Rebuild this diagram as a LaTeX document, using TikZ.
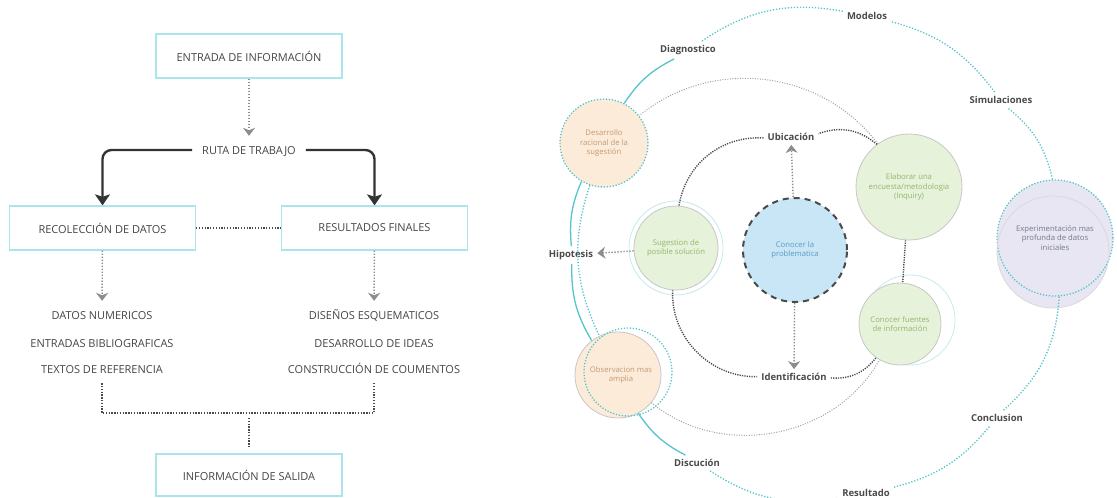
\documentclass[tikz,border=0pt]{standalone}
\usepackage{fontspec}
\setmainfont{Open Sans}
\usetikzlibrary{positioning,arrows.meta}

\definecolor{boxline}{HTML}{A9E5EB}
\definecolor{ringteal}{HTML}{55C4CB}
\definecolor{txtgray}{HTML}{454545}
\definecolor{dotgray}{HTML}{8C8C8C}
\definecolor{darkdot}{HTML}{4A4A4A}
\definecolor{heavy}{HTML}{333333}
\definecolor{midgray}{HTML}{A0A0A0}
\definecolor{peach}{HTML}{FDEBDA}
\definecolor{peachtxt}{HTML}{C29A70}
\definecolor{leaf}{HTML}{E6F2D9}
\definecolor{leaftxt}{HTML}{93B86E}
\definecolor{sky}{HTML}{C8E6F6}
\definecolor{skytxt}{HTML}{5C9BC5}
\definecolor{lilac}{HTML}{E8E6F2}
\definecolor{lilactxt}{HTML}{727A8C}

\begin{document}
\begin{tikzpicture}[x=1pt,y=1pt,
    every node/.style={font=\fontsize{11}{13}\selectfont,text=txtgray},
    box/.style={rectangle,draw=boxline,line width=1.3pt,minimum width=186pt,minimum height=44pt},
    listtext/.style={text height=8pt,text depth=0pt,inner xsep=10pt,inner ysep=10pt},
    softarrow/.style={draw=dotgray,dash pattern=on 1.3pt off 1.7pt,line width=1.4pt,-{Stealth[length=8pt,width=12pt,inset=2.5pt]}},
    heavyarrow/.style={draw=heavy,line width=2.4pt,rounded corners=9pt,-{Stealth[length=11pt,width=15pt,inset=2.5pt]}},
    tightdots/.style={draw=darkdot,dash pattern=on 1.3pt off 1.5pt,line width=1.3pt},
    ringtag/.style={font=\fontsize{9.5}{11}\selectfont\bfseries,text=darkdot,fill=white,inner sep=4pt},
    bubble/.style={circle,align=center,inner sep=0pt,font=\fontsize{7.7}{9.2}\selectfont},
    ringsolid/.style={draw=ringteal,line width=1.3pt},
    ringdots/.style={draw=ringteal,dash pattern=on 1.3pt off 1.7pt,line width=1.3pt},
    innerdots/.style={draw=darkdot,dash pattern=on 1.2pt off 1.2pt,line width=1.4pt},
    middots/.style={draw=midgray,dash pattern=on 1pt off 1.5pt,line width=1pt},
    faint/.style={draw=black!22,line width=0.8pt}
]
\useasboundingbox (0,0) rectangle (1117,-498);

% Flow on the left
\node[box] (entrada) at (249,-56) {ENTRADA DE INFORMACIÓN};
\node[listtext] (ruta) at (249,-150) {RUTA DE TRABAJO};
\node[box] (recoleccion) at (102.5,-228) {RECOLECCIÓN DE DATOS};
\node[box] (resultados) at (374.5,-228) {RESULTADOS FINALES};

\node[listtext] (numericos) at (102,-315) {DATOS NUMERICOS};
\node[listtext] (biblio) at (102,-343) {ENTRADAS BIBLIOGRAFICAS};
\node[listtext] (textos) at (102,-369) {TEXTOS DE REFERENCIA};
\node[listtext] (esquemas) at (374,-315) {DISEÑOS ESQUEMATICOS};
\node[listtext] (ideas) at (374,-343) {DESARROLLO DE IDEAS};
\node[listtext] (coumentos) at (374,-369) {CONSTRUCCIÓN DE COUMENTOS};

\node[box,minimum height=42pt] (salida) at (249,-475) {INFORMACIÓN DE SALIDA};

\coordinate (joinL) at (102,-413);
\coordinate (joinR) at (374,-413);
\coordinate (joinM) at (249,-418);

\draw[softarrow] (entrada) -- (ruta);
\draw[heavyarrow] (ruta.west) -| (recoleccion.north);
\draw[heavyarrow] (ruta.east) -| (resultados.north);
\draw[tightdots] (recoleccion) -- (resultados);
\draw[softarrow] (recoleccion) -- (numericos);
\draw[softarrow] (resultados) -- (esquemas);
\draw[tightdots] (textos) -- (joinL) -- (joinR) -- (coumentos);
\draw[tightdots,shorten >=6pt] (joinM) -- (salida);

% Circles on the right
\node[bubble,draw=ringteal,dash pattern=on 1.3pt off 1.7pt,line width=1.3pt,fill=peach,text=peachtxt,minimum size=88pt]
    (desarrollo) at (604,-143) {Desarrollo\\racional de la\\sugestión};
\node[bubble,faint,fill=peach,text=peachtxt,minimum size=86pt] (observ) at (618,-375) {\hspace*{6pt}Observacion mas\\\hspace*{6pt}amplia};
\draw[ringdots] (628,-372) circle (44);

\draw[draw=ringteal!35,line width=0.8pt] (676,-248) circle (47);
\node[bubble,faint,fill=leaf,text=leaftxt,minimum size=84pt] (sugest) at (676,-248) {Sugestion de\\posible solución};

\node[bubble,faint,fill=leaf,text=leaftxt,minimum size=106pt] (elaborar) at (909,-187) {Elaborar una\\encuesta/metodologia\\(Inquiry)};

\draw[draw=ringteal!35,line width=0.8pt] (910,-320) circle (45);
\node[bubble,faint,fill=leaf,text=leaftxt,minimum size=82pt] (fuentes) at (900,-324) {Conocer fuentes\\de información};

\node[bubble,draw=darkdot,line width=2pt,dash pattern=on 6pt off 5pt,fill=sky,text=skytxt,minimum size=104pt]
    (problema) at (795,-250) {Conocer la\\problematica};

\fill[lilac] (1053,-252) circle (56);
\node[bubble,draw=ringteal,dash pattern=on 1.3pt off 1.7pt,line width=1.3pt,fill=lilac,text=lilactxt,minimum size=116pt]
    (experim) at (1055,-238) {Experimentación mas\\profunda de datos\\iniciales};
\draw[faint,draw=black!15] (1053,-252) circle (56);

% Ring labels
\node[ringtag] (modelos) at (867,-16) {Modelos};
\node[ringtag] (simulaciones) at (1001,-100) {Simulaciones};
\node[ringtag] (conclusion) at (997,-418) {Conclusion};
\node[ringtag] (resultado) at (866,-493) {Resultado};
\node[ringtag] (discucion) at (697,-463) {Discución};
\node[ringtag] (hipotesis) at (571,-255) {Hipotesis};
\node[ringtag] (diagnostico) at (688,-50) {Diagnostico};
\node[ringtag] (ubic) at (791,-137) {Ubicación};
\node[ringtag] (ident) at (794,-377) {Identificación};

% Outer ring
\draw[ringdots] (resultado) to[bend right=18] (conclusion);
\draw[ringdots] (conclusion) to[bend right=22] (experim);
\draw[ringdots] (experim) to[bend right=19] (simulaciones);
\draw[ringdots] (simulaciones) to[bend right=19] (modelos);
\draw[ringdots] (modelos) to[bend right=22] (diagnostico);
\draw[ringsolid] (diagnostico) to[bend right=15] (desarrollo);
\draw[ringsolid] (desarrollo) to[bend right=14] (hipotesis);
\draw[ringsolid] (hipotesis) to[bend right=16] (observ);
\draw[ringsolid] (observ) to[bend right=14] (discucion);
\draw[ringdots] (discucion) to[bend right=21] (resultado);
\draw[ringdots] (desarrollo) to[bend right=22] (observ);

% Middle ring
\draw[middots] (elaborar) to[bend right=46] (desarrollo);
\draw[middots] (observ) to[bend right=50] (fuentes);

% Inner ring
\draw[innerdots] (ubic) to[bend right=42] (sugest);
\draw[innerdots] (elaborar) to[bend right=30] (ubic);
\draw[innerdots] (sugest) to[bend right=47] (ident);
\draw[innerdots] (ident) to[bend right=28] (fuentes);
\draw[innerdots] (elaborar) -- (fuentes);

\draw[softarrow] (problema) -- (ubic);
\draw[softarrow] (problema) -- (ident);
\draw[softarrow] (sugest) -- (hipotesis);

\end{tikzpicture}
\end{document}
